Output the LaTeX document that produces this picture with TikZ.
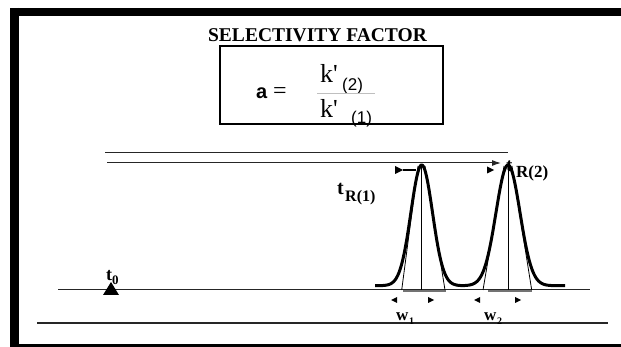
\documentclass[tikz,border=0pt]{standalone}
\usepackage{fontspec}
\setmainfont{Liberation Serif}
\newfontfamily\arialfont{Liberation Sans}
\usetikzlibrary{arrows.meta}
\begin{document}
\begin{tikzpicture}[x=1pt,y=-1pt,
  lbl/.style={inner sep=0pt, anchor=base west},
  rule/.style={line width=1pt, black!85},
  peakline/.style={line width=3pt, line join=round},
  guide/.style={line width=0.8pt, black},
  widthbar/.style={line width=2pt, black!55},
  tipfill/.style={fill=black}
]
\useasboundingbox (0,0) rectangle (621,347);
\fill[white] (0,0) rectangle (621,347);
% frame
\draw[line width=8pt] (10,12) -- (621,12);
\draw[line width=9pt] (14.5,8) -- (14.5,347);
\draw[line width=5pt] (10,346) -- (621,346);

% title and formula box
\node[lbl, anchor=base] (title) at (317.5,42) {\fontsize{19.5}{20}\selectfont\bfseries SELECTIVITY FACTOR};
\node[draw, line width=1.3pt, minimum width=223pt, minimum height=78pt, inner sep=0pt] (box) at (331.5,85) {};
\node[lbl] (alpha) at (256,99) {\fontsize{20}{20}\selectfont\arialfont\bfseries a};
\node[lbl] (eq) at (273,99) {\fontsize{24}{24}\selectfont =};
\node[lbl] (knum) at (320,83) {\fontsize{26}{26}\selectfont k\textquotesingle};
\node[lbl] (knumsub) at (342,91) {\fontsize{17}{17}\selectfont\arialfont (2)};
\node[lbl] (kden) at (320,118) {\fontsize{26}{26}\selectfont k\textquotesingle};
\node[lbl] (kdensub) at (351,124) {\fontsize{17}{17}\selectfont\arialfont (1)};
\coordinate (barL) at (317,93);
\coordinate (barR) at (375,93);
\draw[line width=0.8pt, black!25] (barL) -- (barR);

% horizontal reference lines
\coordinate (l1a) at (105,152.5);
\coordinate (l1b) at (508,152.5);
\coordinate (l2a) at (107,163);
\coordinate (l2b) at (501,163);
\draw[rule] (l1a) -- (l1b);
\draw[rule, -{Latex[length=9pt,width=6pt]}] (l2a) -- (l2b);

% baseline and lower line
\coordinate (baseA) at (58,290);
\coordinate (baseB) at (590,290);
\coordinate (lowA) at (37,323);
\coordinate (lowB) at (608,323);
\draw[rule] (baseA) -- (baseB);
\draw[line width=1.2pt, black!85] (lowA) -- (lowB);

% width bars on baseline
\draw[widthbar] (403,291.5) -- (446,291.5);
\draw[widthbar] (488,291.5) -- (532,291.5);

% vertical retention lines
\coordinate (p1top) at (421.7,165);
\coordinate (p1bot) at (421.7,290);
\coordinate (p2top) at (508,165);
\coordinate (p2bot) at (508,290);
\draw[guide] (p1top) -- (p1bot);
\draw[guide] (p2top) -- (p2bot);
% tangent lines
\draw[guide] (401.7,290) -- (418,166);
\draw[guide] (445,290) -- (425,166);
\draw[guide] (483,290) -- (504,166);
\draw[guide] (531.7,290) -- (512,166);

% label t behind peak 2
\node[lbl] (tR2t) at (506,172) {\fontsize{19}{19}\selectfont\bfseries t};

% peaks
\draw[peakline, domain=375:465, samples=120, smooth]
  plot (\x, {285.7 - 120.7*exp(-0.5*((\x-421.7)/10.8)^2)});
\draw[peakline, domain=465:565, samples=120, smooth]
  plot (\x, {285.7 - 120.7*exp(-0.5*((\x-508)/12)^2)});

% retention markers near peak tops
\fill[tipfill] (395,166) -- (403,170) -- (395,174) -- cycle;
\draw[line width=1.5pt] (403,170) -- (416,170);
\fill[tipfill] (487,166.5) -- (494,170) -- (487,173.5) -- cycle;

% width arrows
\fill[tipfill] (397,297) -- (391,300) -- (397,303) -- cycle;
\fill[tipfill] (428,297) -- (434,300) -- (428,303) -- cycle;
\fill[tipfill] (480,297) -- (474,300) -- (480,303) -- cycle;
\fill[tipfill] (515,297) -- (521,300) -- (515,303) -- cycle;

% labels
\node[lbl] (tR1) at (337,195) {\fontsize{20}{20}\selectfont\bfseries t};
\node[lbl] (tR1s) at (345,202) {\fontsize{16}{16}\selectfont\bfseries R(1)};
\node[lbl] (tR2s) at (516,178) {\fontsize{17}{17}\selectfont\bfseries R(2)};
\node[lbl] (w1) at (396,320) {\fontsize{17}{17}\selectfont\bfseries w};
\node[lbl] (w1s) at (409,324) {\fontsize{10}{10}\selectfont\bfseries 1};
\node[lbl] (w2) at (484,320) {\fontsize{17}{17}\selectfont\bfseries w};
\node[lbl] (w2s) at (497,324) {\fontsize{10}{10}\selectfont\bfseries 2};

% t0 marker
\node[lbl] (t0) at (106,280) {\fontsize{18}{18}\selectfont\bfseries t};
\node[lbl] (t0s) at (112,285) {\fontsize{13}{13}\selectfont\bfseries 0};
\fill[tipfill] (103,295) -- (119,295) -- (111,282) -- cycle;
\end{tikzpicture}
\end{document}
